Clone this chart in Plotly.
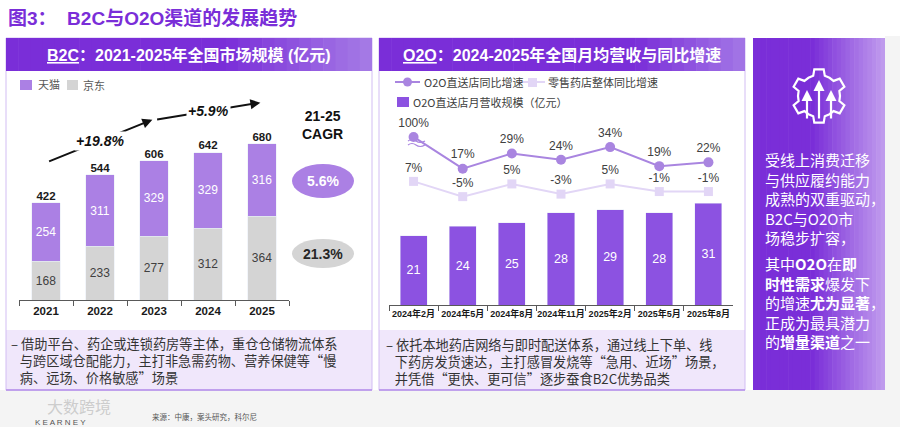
import numpy as np
import plotly.graph_objects as go

W, H = 900, 427
FONT = "Arial, 'Noto Sans CJK SC', sans-serif"
CJK = "'Noto Sans CJK SC', sans-serif"

# B2C market size (亿元)
YEARS = ['2021', '2022', '2023', '2024', '2025']
JD = [168, 233, 277, 312, 364]
TMALL = [254, 311, 329, 329, 316]
TOTAL = [422, 544, 606, 642, 680]
PERIOD_GROWTH = ['+19.8%', '+5.9%']     # 2021->2023, 2023->2025
CAGR_TMALL = '5.6%'
CAGR_JD = '21.3%'

# O2O monthly revenue (亿元) and YoY growth (%)
MONTHS = ['2024年2月', '2024年5月', '2024年8月', '2024年11月', '2025年2月', '2025年5月', '2025年8月']
O2O_REVENUE = [21, 24, 25, 28, 29, 28, 31]
O2O_YOY = [100, 17, 29, 24, 34, 19, 22]
RETAIL_YOY = [7, -5, 5, -3, 5, -1, -1]

AXIS_BREAK = 42   # growth values above this are drawn at the axis break

PURPLE = '#7a2ed8'
TMALL_C = '#ab80e4'
JD_C = '#d4d4d4'
O2O_BAR = '#8c52e1'
O2O_LINE = '#a985e0'
RETAIL_LINE = '#e2d6f6'
BOX_FILL = '#f0e7fb'
BOX_EDGE = '#b48eea'


def px(x):
    return x / W


def py(y):
    return 1 - y / H


shapes = []
annotations = []


def rect(x0, y0, x1, y1, fill=None, line=None, lw=1, layer='below'):
    shapes.append(dict(type='rect', xref='paper', yref='paper',
                       x0=px(x0), x1=px(x1), y0=py(y1), y1=py(y0),
                       fillcolor=fill or 'rgba(0,0,0,0)',
                       line=dict(color=line or 'rgba(0,0,0,0)', width=lw if line else 0),
                       layer=layer))


def hline(x0, x1, y, color, lw=1):
    shapes.append(dict(type='line', xref='paper', yref='paper', x0=px(x0), x1=px(x1),
                       y0=py(y), y1=py(y), line=dict(color=color, width=lw)))


def mix(c0, c1, t):
    a = [int(c0[i:i + 2], 16) for i in (1, 3, 5)]
    b = [int(c1[i:i + 2], 16) for i in (1, 3, 5)]
    return 'rgb(%d,%d,%d)' % tuple(round(a[k] + (b[k] - a[k]) * t) for k in range(3))


def gradient(x0, y0, x1, y1, c0, c1, start=0.5, n=30):
    step = (x1 - x0) / n
    for i in range(n):
        t = max(0.0, ((i + 0.5) / n - start) / (1 - start))
        rect(x0 + i * step, y0, min(x1, x0 + (i + 1) * step + 0.6), y1, fill=mix(c0, c1, t))


def label(text, x, y, size, color='#333333', xanchor='left', yanchor='middle', family=FONT, **kw):
    annotations.append(dict(text=text, x=px(x), y=py(y), xref='paper', yref='paper',
                            xanchor=xanchor, yanchor=yanchor, showarrow=False,
                            font=dict(size=size, color=color, family=family), **kw))


# ---- page background and panels ----
rect(0, 390, 900, 427, fill='#f4f4f4')
rect(885, 36, 900, 427, fill='#f4f4f4')
for x0, x1 in [(6, 372), (379, 745)]:
    rect(x0, 71, x1, 330, fill='white')
    rect(x0, 330, x1, 390, fill=BOX_FILL)
    rect(x0, 38, x1, 390, line='#d2bdf3', lw=1)
    hline(x0, x1, 390, BOX_EDGE, 1.5)
gradient(6, 38, 372, 71, PURPLE, '#a67ce6', start=0.6)
gradient(379, 38, 745, 71, PURPLE, '#a377e6', start=0.7)
gradient(753, 38, 885, 390, PURPLE, '#c19dee', start=0.45)

label('<b>图3：  B2C与O2O渠道的发展趋势</b>', 6, 18, 19, color=PURPLE)
label('<b><u>B2C</u>：2021-2025年全国市场规模 (亿元)</b>', 189, 55, 16, color='white', xanchor='center')
label('<b><u>O2O</u>：2024-2025年全国月均营收与同比增速</b>', 562, 55, 16, color='white', xanchor='center')

# ---- left legend ----
rect(20, 80, 32, 90, fill=TMALL_C, layer='above')
label('天猫', 36, 85, 11, color='#595959')
rect(67, 80, 78, 90, fill=JD_C, layer='above')
label('京东', 81, 85, 11, color='#595959')

# ---- right legend ----
hline(395, 420, 82, O2O_LINE, 2)
shapes.append(dict(type='circle', xref='paper', yref='paper', x0=px(403), x1=px(412),
                   y0=py(86.5), y1=py(77.5), fillcolor=O2O_LINE, line=dict(width=0)))
label('O2O直送店同比增速', 422, 82, 11, color='#404040', family=CJK)
hline(520, 545, 82, RETAIL_LINE, 2)
rect(528, 78, 537, 87, fill=RETAIL_LINE, layer='above')
label('零售药店整体同比增速', 546, 82, 11, color='#404040', family=CJK)
rect(397, 97, 409, 107, fill=O2O_BAR, layer='above')
label('O2O直送店月营收规模（亿元）', 411, 102, 11, color='#404040', family=CJK)

fig = go.Figure()

# ---- B2C stacked bars ----
fig.add_trace(go.Bar(x=YEARS, y=JD, marker_color=JD_C, width=0.52, text=JD,
                     textposition='inside', insidetextanchor='middle', textangle=0,
                     textfont=dict(size=12, color='#404040', family=FONT),
                     xaxis='x', yaxis='y', hoverinfo='skip'))
fig.add_trace(go.Bar(x=YEARS, y=TMALL, marker_color=TMALL_C, width=0.52, text=TMALL,
                     textposition='inside', insidetextanchor='middle', textangle=0,
                     textfont=dict(size=12, color='white', family=FONT),
                     xaxis='x', yaxis='y', hoverinfo='skip'))
fig.add_trace(go.Scatter(x=YEARS, y=TOTAL, mode='text', text=['<b>%d</b>' % v for v in TOTAL],
                         textposition='top center', cliponaxis=False,
                         textfont=dict(size=11.5, color='#1a1a1a', family=FONT),
                         xaxis='x', yaxis='y', hoverinfo='skip'))

# growth arrows over 2021->2023 and 2023->2025
ARROW_LIFT = 178
for (i0, i1), txt in zip([(0, 2), (2, 4)], PERIOD_GROWTH):
    y0 = TOTAL[i0] + ARROW_LIFT
    y1 = TOTAL[i1] + ARROW_LIFT
    annotations.append(dict(x=i1 - 0.03, y=y1, ax=i0 + 0.03, ay=y0, xref='x', yref='y',
                            axref='x', ayref='y', text='', showarrow=True, arrowhead=2,
                            arrowsize=1, arrowwidth=2, arrowcolor='#111111'))
    annotations.append(dict(x=(i0 + i1) / 2, y=(y0 + y1) / 2, xref='x', yref='y',
                            text='<b><i>%s</i></b>' % txt, showarrow=False, bgcolor='white',
                            font=dict(size=14, color='#111111', family=FONT)))

# CAGR column
label('<b>21-25</b><br><b>CAGR</b>', 322, 125, 14, color='#111111', xanchor='center')
shapes.append(dict(type='circle', xref='paper', yref='paper', x0=px(292), x1=px(354),
                   y0=py(198), y1=py(164), fillcolor=TMALL_C, line=dict(width=0)))
label('<b>%s</b>' % CAGR_TMALL, 323, 181, 14, color='white', xanchor='center')
shapes.append(dict(type='circle', xref='paper', yref='paper', x0=px(292), x1=px(354),
                   y0=py(268), y1=py(239), fillcolor=JD_C, line=dict(width=0)))
label('<b>%s</b>' % CAGR_JD, 323, 254, 14, color='#262626', xanchor='center')

# ---- O2O bars and growth lines ----
fig.add_trace(go.Bar(x=MONTHS, y=O2O_REVENUE, marker_color=O2O_BAR, width=0.55,
                     text=O2O_REVENUE, textposition='inside', insidetextanchor='middle',
                     textangle=0, textfont=dict(size=12.5, color='white', family=FONT),
                     xaxis='x2', yaxis='y2', hoverinfo='skip'))
fig.add_trace(go.Scatter(x=MONTHS, y=RETAIL_YOY, mode='lines+markers+text',
                         text=['%d%%' % v for v in RETAIL_YOY], textposition='top center',
                         line=dict(color=RETAIL_LINE, width=2),
                         marker=dict(symbol='square', size=9, color=RETAIL_LINE),
                         textfont=dict(size=12, color='#404040', family=FONT), cliponaxis=False,
                         xaxis='x2', yaxis='y3', hoverinfo='skip'))
fig.add_trace(go.Scatter(x=MONTHS, y=[min(v, AXIS_BREAK) for v in O2O_YOY],
                         mode='lines+markers+text',
                         text=['%d%%' % v for v in O2O_YOY], textposition='top center',
                         line=dict(color=O2O_LINE, width=2),
                         marker=dict(symbol='circle', size=10, color=O2O_LINE),
                         textfont=dict(size=12, color='#404040', family=FONT), cliponaxis=False,
                         xaxis='x2', yaxis='y3', hoverinfo='skip'))

# axis-break squiggle next to the 100% point
for dy in (0, 4):
    yy = 141 + dy
    shapes.append(dict(type='path', xref='paper', yref='paper',
                       path='M %f,%f Q %f,%f %f,%f T %f,%f' % (
                           px(408), py(yy), px(412), py(yy - 3), px(416), py(yy),
                           px(425), py(yy)),
                       line=dict(color=O2O_LINE, width=1.2)))

# ---- description boxes ----
left_note = ['– 借助平台、药企或连锁药房等主体，重仓仓储物流体系',
             '   与跨区域仓配能力，主打非急需药物、营养保健等“慢',
             '   病、远场、价格敏感”场景']
right_note = ['– 依托本地药店网络与即时配送体系，通过线上下单、线',
              '   下药房发货速达，主打感冒发烧等“急用、近场”场景，',
              '   并凭借“更快、更可信”逐步蚕食B2C优势品类']
label('<br>'.join(left_note), 9, 360, 13.2, color='#333333', family=CJK, align='left')
label('<br>'.join(right_note), 384, 361, 13.2, color='#333333', family=CJK, align='left')

# ---- side panel ----
cx, cy, r_out, r_in = 819, 96, 27, 21
pts = []
for k in range(6):
    a = 90 + 60 * k
    for da, r in [(-30, r_in), (-16, r_in), (-10, r_out), (10, r_out), (16, r_in)]:
        t = np.radians(a + da)
        pts.append((cx + r * np.cos(t), cy - r * np.sin(t)))
shapes.append(dict(type='path', xref='paper', yref='paper',
                   path='M ' + ' L '.join('%f,%f' % (px(x), py(y)) for x, y in pts) + ' Z',
                   line=dict(color='white', width=2.2)))
for ax_, top in [(807, 90), (819, 80), (831, 90)]:
    annotations.append(dict(x=px(ax_), y=py(top), xref='paper', yref='paper', text='',
                            showarrow=True, ax=0, ay=120 - top, arrowhead=2, arrowsize=1,
                            arrowwidth=2.2, arrowcolor='white'))

side_p1 = ['受线上消费迁移', '与供应履约能力', '成熟的双重驱动，', 'B2C与O2O市', '场稳步扩容，']
side_p2 = ['其中<b>O2O</b>在<b>即</b>', '<b>时性需求</b>爆发下', '的增速<b>尤为显著</b>，',
           '正成为最具潜力', '的<b>增量渠道</b>之一']
label('<br>'.join(side_p1), 763, 147, 15, color='white', family=CJK, yanchor='top', align='left')
label('<br>'.join(side_p2), 763, 251, 15, color='white', family=CJK, yanchor='top', align='left')

# ---- footer ----
label('大数跨境', 45, 406, 16, color='rgba(200,200,200,0.9)', family=CJK)
label('K E A R N E Y', 33, 422, 8, color='#555555')
label('来源：中康，案头研究，科尔尼', 150, 416, 7.5, color='#555555', family=CJK)

axis_common = dict(type='category', showline=True, linecolor='#595959', linewidth=1,
                   ticks='outside', tickson='boundaries', ticklen=5, tickcolor='#595959',
                   tickangle=0, showgrid=False, zeroline=False, fixedrange=True)

fig.update_layout(
    width=W, height=H, margin=dict(l=0, r=0, t=0, b=0),
    paper_bgcolor='white', plot_bgcolor='rgba(0,0,0,0)',
    showlegend=False, barmode='stack',
    font=dict(family=FONT),
    xaxis=dict(domain=[px(19), px(289)], anchor='y',
               tickfont=dict(size=11.5, color='#1a1a1a', family=FONT, weight='bold'),
               **axis_common),
    yaxis=dict(domain=[py(300), py(90)], range=[0, 913], visible=False, fixedrange=True),
    xaxis2=dict(domain=[px(389), px(733)], anchor='y2',
                tickfont=dict(size=9, color='#1a1a1a', family=FONT, weight='bold'),
                **axis_common),
    yaxis2=dict(domain=[py(305), py(110)], range=[0, 59.3], visible=False, anchor='x2',
                fixedrange=True),
    yaxis3=dict(overlaying='y2', range=[-90.3, 63.2], visible=False, anchor='x2',
                fixedrange=True),
    shapes=shapes,
    annotations=annotations,
)

fig.write_html('out.html', config={'displayModeBar': False},
               post_script="document.body.style.margin='0';document.body.style.overflow='hidden';")
